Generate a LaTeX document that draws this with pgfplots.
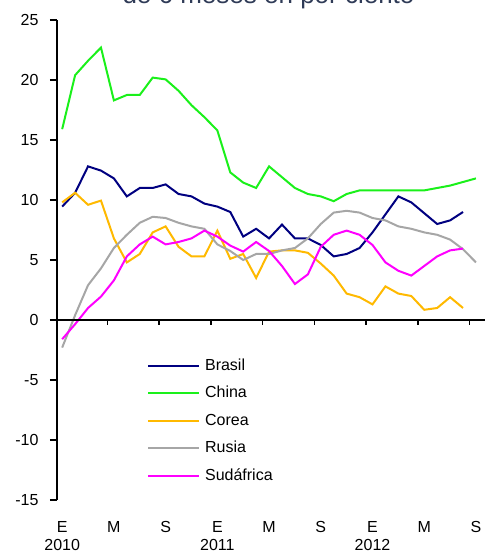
\documentclass[border=0pt]{standalone}
\usepackage{fontspec}
\setmainfont{Liberation Sans}
\usepackage{pgfplots}
\usepackage{pgfplotstable}
\pgfplotsset{compat=1.18}
\definecolor{cBrasil}{HTML}{000080}
\definecolor{cChina}{HTML}{1AF01A}
\definecolor{cCorea}{HTML}{FFB900}
\definecolor{cRusia}{HTML}{A6A6A6}
\definecolor{cSud}{HTML}{FF00FF}
\definecolor{cTitle}{HTML}{2F3B57}

% months from Jan 2010 (k=0) to Sep 2012 (k=32)
\pgfplotstableread{
k  brasil china corea rusia sud
0  9.45  15.9  9.8   -2.3  -1.6
1  10.6  20.4  10.6  0.4   -0.35
2  12.8  21.6  9.6   2.9   1.0
3  12.45 22.7  9.95  4.3   1.95
4  11.8  18.3  6.8   6.0   3.3
5  10.3  18.75 4.8   7.1   5.3
6  11.0  18.75 5.5   8.1   6.3
7  11.0  20.2  7.3   8.6   6.95
8  11.3  20.05 7.8   8.5   6.3
9  10.5  19.1  6.1   8.1   6.5
10 10.3  17.9  5.3   7.8   6.8
11 9.7   16.9  5.3   7.6   7.45
12 9.45  15.8  7.45  6.3   6.95
13 9.0   12.3  5.1   5.75  6.2
14 6.95  11.45 5.5   5.0   5.7
15 7.6   11.0  3.5   5.5   6.5
16 6.8   12.8  5.7   5.5   5.75
17 7.95  11.9  5.8   5.8   4.5
18 6.8   11.0  5.8   6.0   3.0
19 6.8   10.5  5.6   6.8   3.8
20 6.25  10.3  4.7   8.0   6.1
21 5.3   9.9   3.7   8.95  7.1
22 5.5   10.5  2.2   9.1   7.45
23 6.0   10.8  1.9   8.95  7.1
24 7.3   10.8  1.3   8.5   6.25
25 8.8   10.8  2.8   8.3   4.8
26 10.3  10.8  2.2   7.8   4.1
27 9.8   10.8  2.0   7.6   3.7
28 8.9   10.8  0.85  7.3   4.5
29 8.0   11.0  1.0   7.1   5.3
30 8.3   11.2  1.9   6.7   5.8
31 9.0   11.5  1.0   5.9   5.95
32 nan   11.8  nan   4.8   nan
}\datatable

\begin{document}
\begin{tikzpicture}[x=1pt,y=1pt]
\pgfplotsset{
  frame/.style={
    at={(57pt,53pt)}, anchor=south west,
    scale only axis, width=428pt, height=480pt,
    xmin=-0.4, xmax=32.7, ymin=-15, ymax=25,
  },
}
\begin{axis}[
  frame,
  axis y line*=left,
  axis x line*=bottom,
  x axis line style={draw=none},
  y axis line style={line width=1.6pt},
  xtick={0,4,...,32},
  xticklabels={{E\\2010},M,S,{E\\2011},M,S,{E\\2012},M,S},
  xtick style={draw=none},
  xticklabel style={align=center, font=\fontsize{16}{18}\selectfont, yshift=-11pt},
  ytick={-15,-10,...,25},
  ytick style={line width=1.6pt, black},
  tick align=outside,
  major tick length=7pt,
  yticklabel style={font=\fontsize{16}{19}\selectfont, xshift=-8pt},
  /pgf/number format/assume math mode=true,
  legend style={
    at={(0.21,0.296)}, anchor=north west,
    draw=none, fill=none, inner sep=0pt,
    font=\fontsize{16}{19}\selectfont,
    row sep=12pt,
    nodes={inner sep=0pt, text height=12pt, text depth=3.5pt},
  },
  legend cell align=left,
  legend image code/.code={\draw[#1] (0pt,0pt) -- (51pt,0pt);},
  every axis plot/.append style={line width=2pt},
]
\addplot[cBrasil, no markers] table[x=k, y=brasil] {\datatable};
\addlegendentry{\hspace{5pt}Brasil}
\addplot[cChina, no markers] table[x=k, y=china] {\datatable};
\addlegendentry{\hspace{5pt}China}
\addplot[cCorea, no markers] table[x=k, y=corea] {\datatable};
\addlegendentry{\hspace{5pt}Corea}
\addplot[cRusia, no markers] table[x=k, y=rusia] {\datatable};
\addlegendentry{\hspace{5pt}Rusia}
\addplot[cSud, no markers] table[x=k, y=sud] {\datatable};
\addlegendentry{\hspace{5pt}Sudáfrica}
\end{axis}
\begin{axis}[
  frame,
  axis x line*=middle,
  axis y line=none,
  x axis line style={line width=1.6pt},
  xtick={3.5,7.5,...,31.5},
  xticklabels={},
  xtick style={line width=1.6pt, black},
  tick align=outside,
  major tick length=5pt,
]
\end{axis}
\node[anchor=base, font=\fontsize{26}{30}\selectfont, text=cTitle] at (268.5,549) {de 6 meses en por ciento};
\pgfresetboundingbox
\path[use as bounding box] (0,0) rectangle (485,553);
\end{tikzpicture}
\end{document}
